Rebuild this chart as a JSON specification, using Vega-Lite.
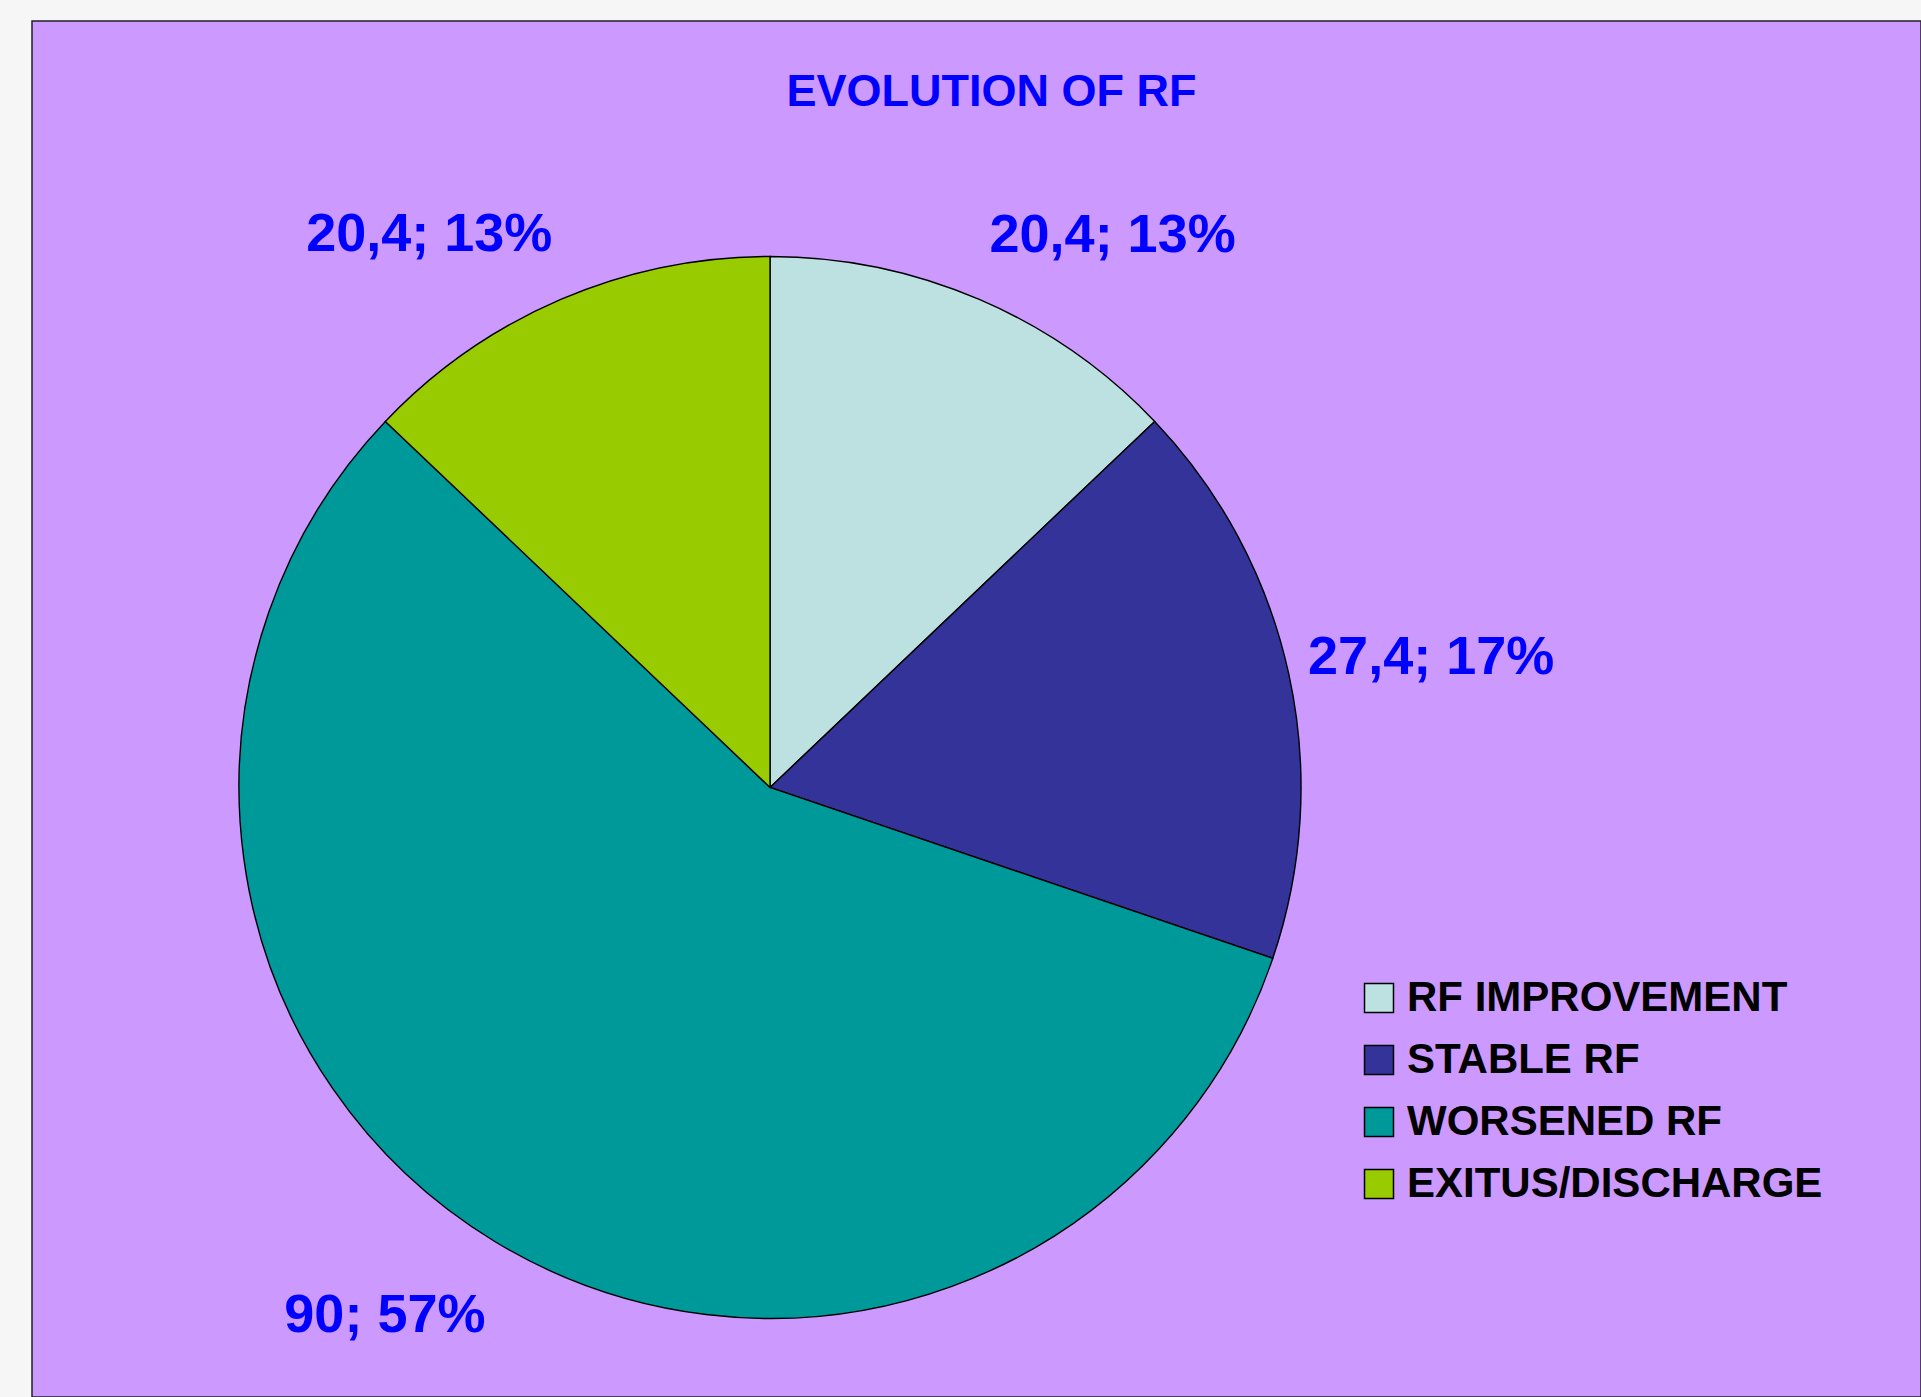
{
  "$schema": "https://vega.github.io/schema/vega-lite/v6.json",
  "autosize": {"type": "fit", "contains": "padding"},
  "width": 1921,
  "height": 1397,
  "padding": {"left": 32, "top": 21, "right": 0, "bottom": 0},
  "background": "#f6f6f6",
  "config": {
    "view": {"fill": "#cc99ff", "stroke": "#222222", "strokeWidth": 1.5},
    "font": "Liberation Sans"
  },
  "title": {
    "text": "EVOLUTION OF RF",
    "color": "#0000ff",
    "font": "Liberation Sans",
    "fontSize": 45,
    "fontWeight": "bold",
    "anchor": "middle",
    "frame": "group",
    "orient": "top",
    "baseline": "alphabetic",
    "offset": -130,
    "dx": 15
  },
  "data": {
    "values": [
      {"category": "RF IMPROVEMENT", "value": 20.4, "label": "20,4; 13%"},
      {"category": "STABLE RF", "value": 27.4, "label": "27,4; 17%"},
      {"category": "WORSENED RF", "value": 90, "label": "90; 57%"},
      {"category": "EXITUS/DISCHARGE", "value": 20.4, "label": "20,4; 13%"}
    ]
  },
  "transform": [{"window": [{"op": "row_number", "as": "idx"}]}],
  "encoding": {
    "theta": {"field": "value", "type": "quantitative", "stack": true},
    "order": {"field": "idx", "type": "quantitative"},
    "x": {"datum": 0.3907, "type": "quantitative", "scale": {"domain": [0, 1]}, "axis": null},
    "y": {"datum": 0.557, "type": "quantitative", "scale": {"domain": [0, 1], "reverse": true}, "axis": null},
    "color": {
      "field": "category",
      "type": "nominal",
      "scale": {
        "domain": ["RF IMPROVEMENT", "STABLE RF", "WORSENED RF", "EXITUS/DISCHARGE"],
        "range": ["#bde1e1", "#333399", "#009999", "#99cc00"]
      },
      "legend": {
        "title": null,
        "orient": "none",
        "legendX": 1326,
        "legendY": 956,
        "padding": 0,
        "symbolType": "square",
        "symbolSize": 840,
        "symbolStrokeColor": "#000000",
        "symbolStrokeWidth": 1.5,
        "symbolOpacity": 1,
        "labelFont": "Liberation Sans",
        "labelFontSize": 42,
        "labelFontWeight": "bold",
        "labelColor": "#000000",
        "labelOffset": 7,
        "labelLimit": 700,
        "rowPadding": 20
      }
    }
  },
  "layer": [
    {
      "mark": {"type": "arc", "outerRadius": 531, "stroke": "#000000", "strokeWidth": 1.4}
    },
    {
      "mark": {"type": "text", "radius": 595, "dx": -15, "dy": -5, "align": "left", "baseline": "middle", "font": "Liberation Sans", "fontSize": 54, "fontWeight": "bold"},
      "encoding": {
        "text": {"condition": {"test": "datum.category === 'RF IMPROVEMENT'", "field": "label"}, "value": ""},
        "color": {"value": "#0000ff"}
      }
    },
    {
      "mark": {"type": "text", "radius": 555, "dx": -4, "dy": -10, "align": "left", "baseline": "middle", "font": "Liberation Sans", "fontSize": 54, "fontWeight": "bold"},
      "encoding": {
        "text": {"condition": {"test": "datum.category === 'STABLE RF'", "field": "label"}, "value": ""},
        "color": {"value": "#0000ff"}
      }
    },
    {
      "mark": {"type": "text", "radius": 598, "dx": 25, "dy": 17, "align": "right", "baseline": "middle", "font": "Liberation Sans", "fontSize": 54, "fontWeight": "bold"},
      "encoding": {
        "text": {"condition": {"test": "datum.category === 'WORSENED RF'", "field": "label"}, "value": ""},
        "color": {"value": "#0000ff"}
      }
    },
    {
      "mark": {"type": "text", "radius": 598, "dx": 18, "dy": -3, "align": "right", "baseline": "middle", "font": "Liberation Sans", "fontSize": 54, "fontWeight": "bold"},
      "encoding": {
        "text": {"condition": {"test": "datum.category === 'EXITUS/DISCHARGE'", "field": "label"}, "value": ""},
        "color": {"value": "#0000ff"}
      }
    }
  ]
}
